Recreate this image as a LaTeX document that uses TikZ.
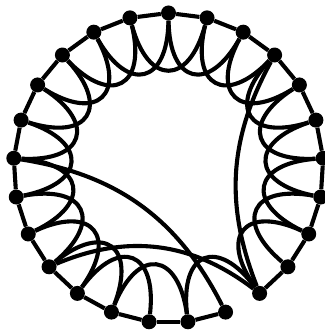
\documentclass[tikz,border=0pt]{standalone}
\usetikzlibrary{calc}
\begin{document}
\begin{tikzpicture}[vert/.style={circle,fill=black,inner sep=0pt,minimum size=.45cm},
	edge/.style={line width=3.5pt},
	petal/.style={line width=3.5pt,bend right=75,looseness=2.2}]
	\useasboundingbox (0,0) rectangle (9.72,10.02);
	\coordinate (c) at (5.055,4.98);
	
	% vertices, clockwise from the top
	\foreach \i in {0,...,24}
		\node[vert] (p\i) at ($(c)+(90-14.4*\i:4.65)$) {};
	
	% outer ring, open between p10 and p11
	\foreach \i in {0,...,24}{
		\pgfmathtruncatemacro{\j}{mod(\i+1,25)}
		\ifnum\i=10 \else \draw[edge] (p\i) -- (p\j); \fi
	}
	
	% petals to the second neighbour
	\foreach \i in {0,...,24}{
		\pgfmathtruncatemacro{\j}{mod(\i+2,25)}
		\ifnum\i=9 \else \ifnum\i=11 \else \draw[petal] (p\i) to (p\j); \fi\fi
	}
	
	\draw[edge] (p3) to[bend right=25] (p10);
	\draw[edge] (p16) to[bend left=30] (p10);
	\draw[edge] (p19) to[bend left=27] (p11);
	
\end{tikzpicture}
\end{document}
